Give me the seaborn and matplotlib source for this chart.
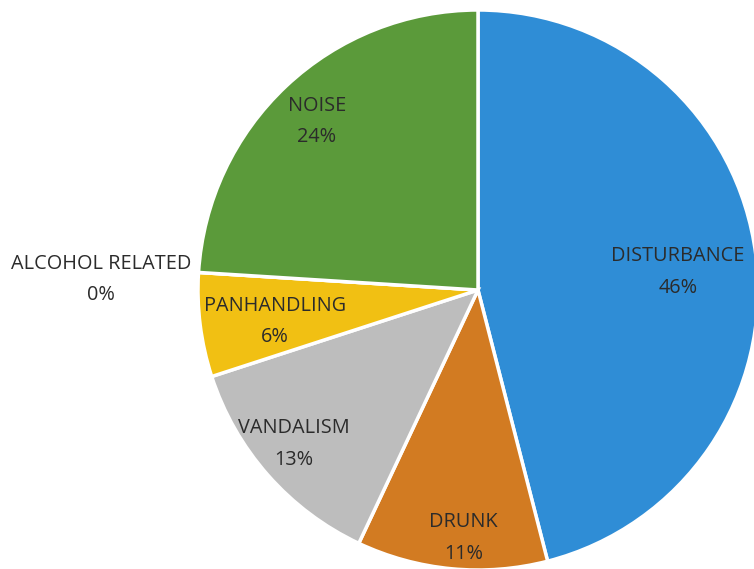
import matplotlib
matplotlib.use("Agg")
import matplotlib.pyplot as plt
import seaborn as sns
import numpy as np

categories = ["DISTURBANCE", "DRUNK", "VANDALISM", "PANHANDLING", "ALCOHOL RELATED", "NOISE"]
values = [46, 11, 13, 6, 0, 24]
colors = ["#2F8DD6", "#D27B22", "#BDBDBD", "#F1C013", "#A0A0A0", "#5B9A3A"]
label_radius = [0.67, 0.88, 0.85, 0.73, 1.35, 0.84]
# label nudges in pixels (right, down)
label_nudge = [(14, 0), (9, -3), (-6, -9), (0, 0), (0, 8), (0, -3)]

sns.set_theme(style="white")
plt.rcParams['font.family'] = ['Open Sans', 'DejaVu Sans']

cx, cy, R = 478, 290, 280

fig = plt.figure(figsize=(7.54, 5.69), dpi=100)
ax = fig.add_axes([0, 0, 1, 1])
wedges, _ = ax.pie(values, colors=colors, startangle=90, counterclock=False,
                   radius=1.0, center=(0, 0),
                   wedgeprops=dict(edgecolor="white", linewidth=2.5))

total = sum(values)
cum = 0
for cat, v, r, (nx, ny) in zip(categories, values, label_radius, label_nudge):
    mid = cum + v / 2
    cum += v
    theta = np.deg2rad(90 - 360 * mid / total)
    x = r * np.cos(theta) + nx / R
    y = r * np.sin(theta) - 0.02 - ny / R
    ax.text(x, y, f"{cat}\n{v}%", ha="center", va="center", fontsize=14.3,
            color="#2b2b2b", linespacing=1.75)

ax.set_xlim((0 - cx) / R, (754 - cx) / R)
ax.set_ylim(-(569 - cy) / R, cy / R)
ax.set_aspect("auto")
ax.axis("off")
fig.savefig("out.png", dpi=100)
